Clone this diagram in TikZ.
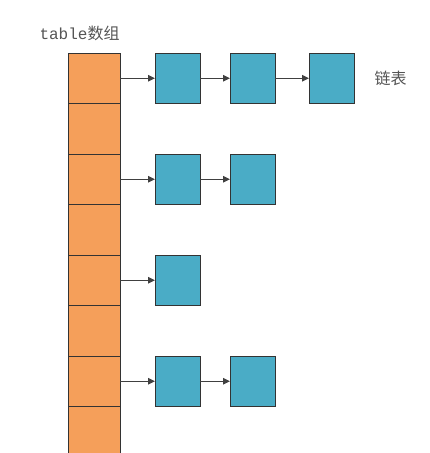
\documentclass[tikz,border=0pt]{standalone}
\usepackage{fontspec}
\setmonofont{Liberation Mono}
\newfontfamily\cjk{Noto Sans CJK SC}
\usetikzlibrary{arrows.meta,positioning}
\definecolor{cellorange}{HTML}{F59F5A}
\definecolor{nodeblue}{HTML}{4AACC6}
\definecolor{textgray}{HTML}{555555}

\begin{document}
\begin{tikzpicture}[
        x=1pt, y=-1pt,
        node distance=0pt,
        every path/.style={line width=1pt},
        cell/.style={draw=black!80, fill=cellorange, minimum width=52pt, minimum height=50.5pt, inner sep=0pt, outer sep=0pt},
        entry/.style={draw=black!80, fill=nodeblue, minimum width=45pt, minimum height=50pt, inner sep=0pt, outer sep=0pt},
        link/.style={draw=black!75, -{Triangle[length=7pt,width=6.5pt]}},
        titletext/.style={text=textgray, inner sep=0pt, font=\fontsize{16}{19}\selectfont}
    ]
    \useasboundingbox (0,0) rectangle (430,453);

    % table array
    \node (c1) [cell] at (94,78.25) {};
    \node (c2) [cell, below=of c1] {};
    \node (c3) [cell, below=of c2] {};
    \node (c4) [cell, below=of c3] {};
    \node (c5) [cell, below=of c4] {};
    \node (c6) [cell, below=of c5] {};
    \node (c7) [cell, below=of c6] {};
    \node (c8) [cell, below=of c7] {};

    % linked lists
    \node (a1) [entry, right=35pt of c1] {};
    \node (a2) [entry, right=30pt of a1] {};
    \node (a3) [entry, right=34pt of a2] {};
    \node (b1) [entry, right=35pt of c3] {};
    \node (b2) [entry, right=30pt of b1] {};
    \node (d1) [entry, right=35pt of c5] {};
    \node (e1) [entry, right=35pt of c7] {};
    \node (e2) [entry, right=30pt of e1] {};

    % Labels
    \node (table) [titletext, anchor=south west] at (39,41) {\ttfamily table\cjk 数组};
    \node (list) [titletext, right=20pt of a3] {\cjk 链表};

    % Edges
    \draw[link] (c1) -- (a1);
    \draw[link] (a1) -- (a2);
    \draw[link] (a2) -- (a3);
    \draw[link] (c3) -- (b1);
    \draw[link] (b1) -- (b2);
    \draw[link] (c5) -- (d1);
    \draw[link] (c7) -- (e1);
    \draw[link] (e1) -- (e2);
\end{tikzpicture}
\end{document}
